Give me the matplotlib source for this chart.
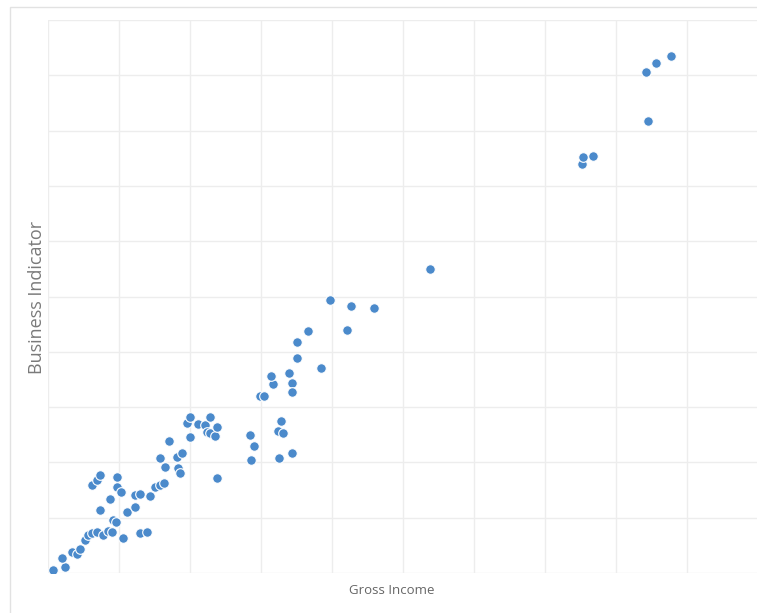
import numpy as np
import matplotlib
matplotlib.use("Agg")
import matplotlib.pyplot as plt
from matplotlib.patches import Rectangle

gross_income = [
    0.07, 0.24, 0.20, 0.34, 0.41, 0.45, 0.52, 0.56, 0.62, 0.69, 0.77, 0.85,
    0.90, 0.92, 0.96, 1.06, 0.62, 0.69, 0.73, 0.73, 0.87, 0.97, 0.97, 1.03,
    1.11, 1.23, 1.23, 1.30, 1.30, 1.39, 1.44, 1.51, 1.58, 1.63, 1.58, 1.65,
    1.70, 1.82, 1.89, 1.83, 1.86, 1.96, 2.00, 2.00, 2.11, 2.21, 2.24, 2.28,
    2.28, 2.35, 2.38, 2.38, 2.85, 2.90, 2.86, 3.28, 3.24, 3.31, 3.25, 3.44,
    2.99, 3.04, 3.17, 3.14, 3.39, 3.44, 3.44, 3.51, 3.51, 3.66, 3.85, 3.97,
    4.21, 4.27, 4.59, 5.38, 7.52, 7.54, 7.68, 8.42, 8.56, 8.77, 8.45,
]
business_indicator = [
    0.05, 0.11, 0.27, 0.38, 0.34, 0.43, 0.60, 0.69, 0.72, 0.74, 0.69, 0.76,
    0.74, 0.96, 0.92, 0.63, 1.59, 1.68, 1.77, 1.14, 1.34, 1.74, 1.56, 1.46,
    1.10, 1.19, 1.41, 1.43, 0.72, 0.74, 1.39, 1.56, 1.59, 1.63, 2.08, 1.92,
    2.39, 2.10, 2.17, 1.90, 1.81, 2.71, 2.82, 2.46, 2.69, 2.68, 2.55, 2.82,
    2.53, 2.48, 2.64, 1.72, 2.50, 2.30, 2.04, 2.75, 2.57, 2.53, 2.08, 2.17,
    3.20, 3.20, 3.42, 3.56, 3.62, 3.44, 3.27, 3.89, 4.18, 4.38, 3.71, 4.94,
    4.39, 4.83, 4.79, 5.50, 7.40, 7.52, 7.54, 9.06, 9.22, 9.35, 8.17,
]

fig = plt.figure(figsize=(7.57, 6.13), dpi=100)
fig.patches.append(Rectangle((10 / 757, -0.01), 1.0, 1 - 7 / 613 + 0.01,
                             transform=fig.transFigure, fill=False,
                             edgecolor="#e2e2e2", lw=1.0))

ax = fig.add_axes([48 / 757, 40 / 613, (757 - 48) / 757, 553 / 613])
ax.scatter(gross_income, business_indicator, s=48, color="#4b8acb",
           edgecolors="white", linewidths=0.8, zorder=3)

ax.set_xlim(0, 709 / 71)
ax.set_ylim(0, 10)
ax.set_xticks(np.arange(0, 10, 1))
ax.set_yticks(np.arange(0, 11, 1))
ax.tick_params(length=0, labelbottom=False, labelleft=False)
ax.grid(True, color="#ededed", lw=1.0)
for sp in ax.spines.values():
    sp.set_visible(False)

fig.text(392 / 757, 1 - 590 / 613, "Gross Income", ha="center", va="center",
         fontsize=9.5, color="#666666", family="Open Sans")
fig.text(37 / 757, 1 - 297 / 613, "Business Indicator", ha="center",
         va="center", rotation=90, fontsize=13, color="#7a7a7a",
         family="Open Sans")

fig.savefig("out.png", dpi=100)
